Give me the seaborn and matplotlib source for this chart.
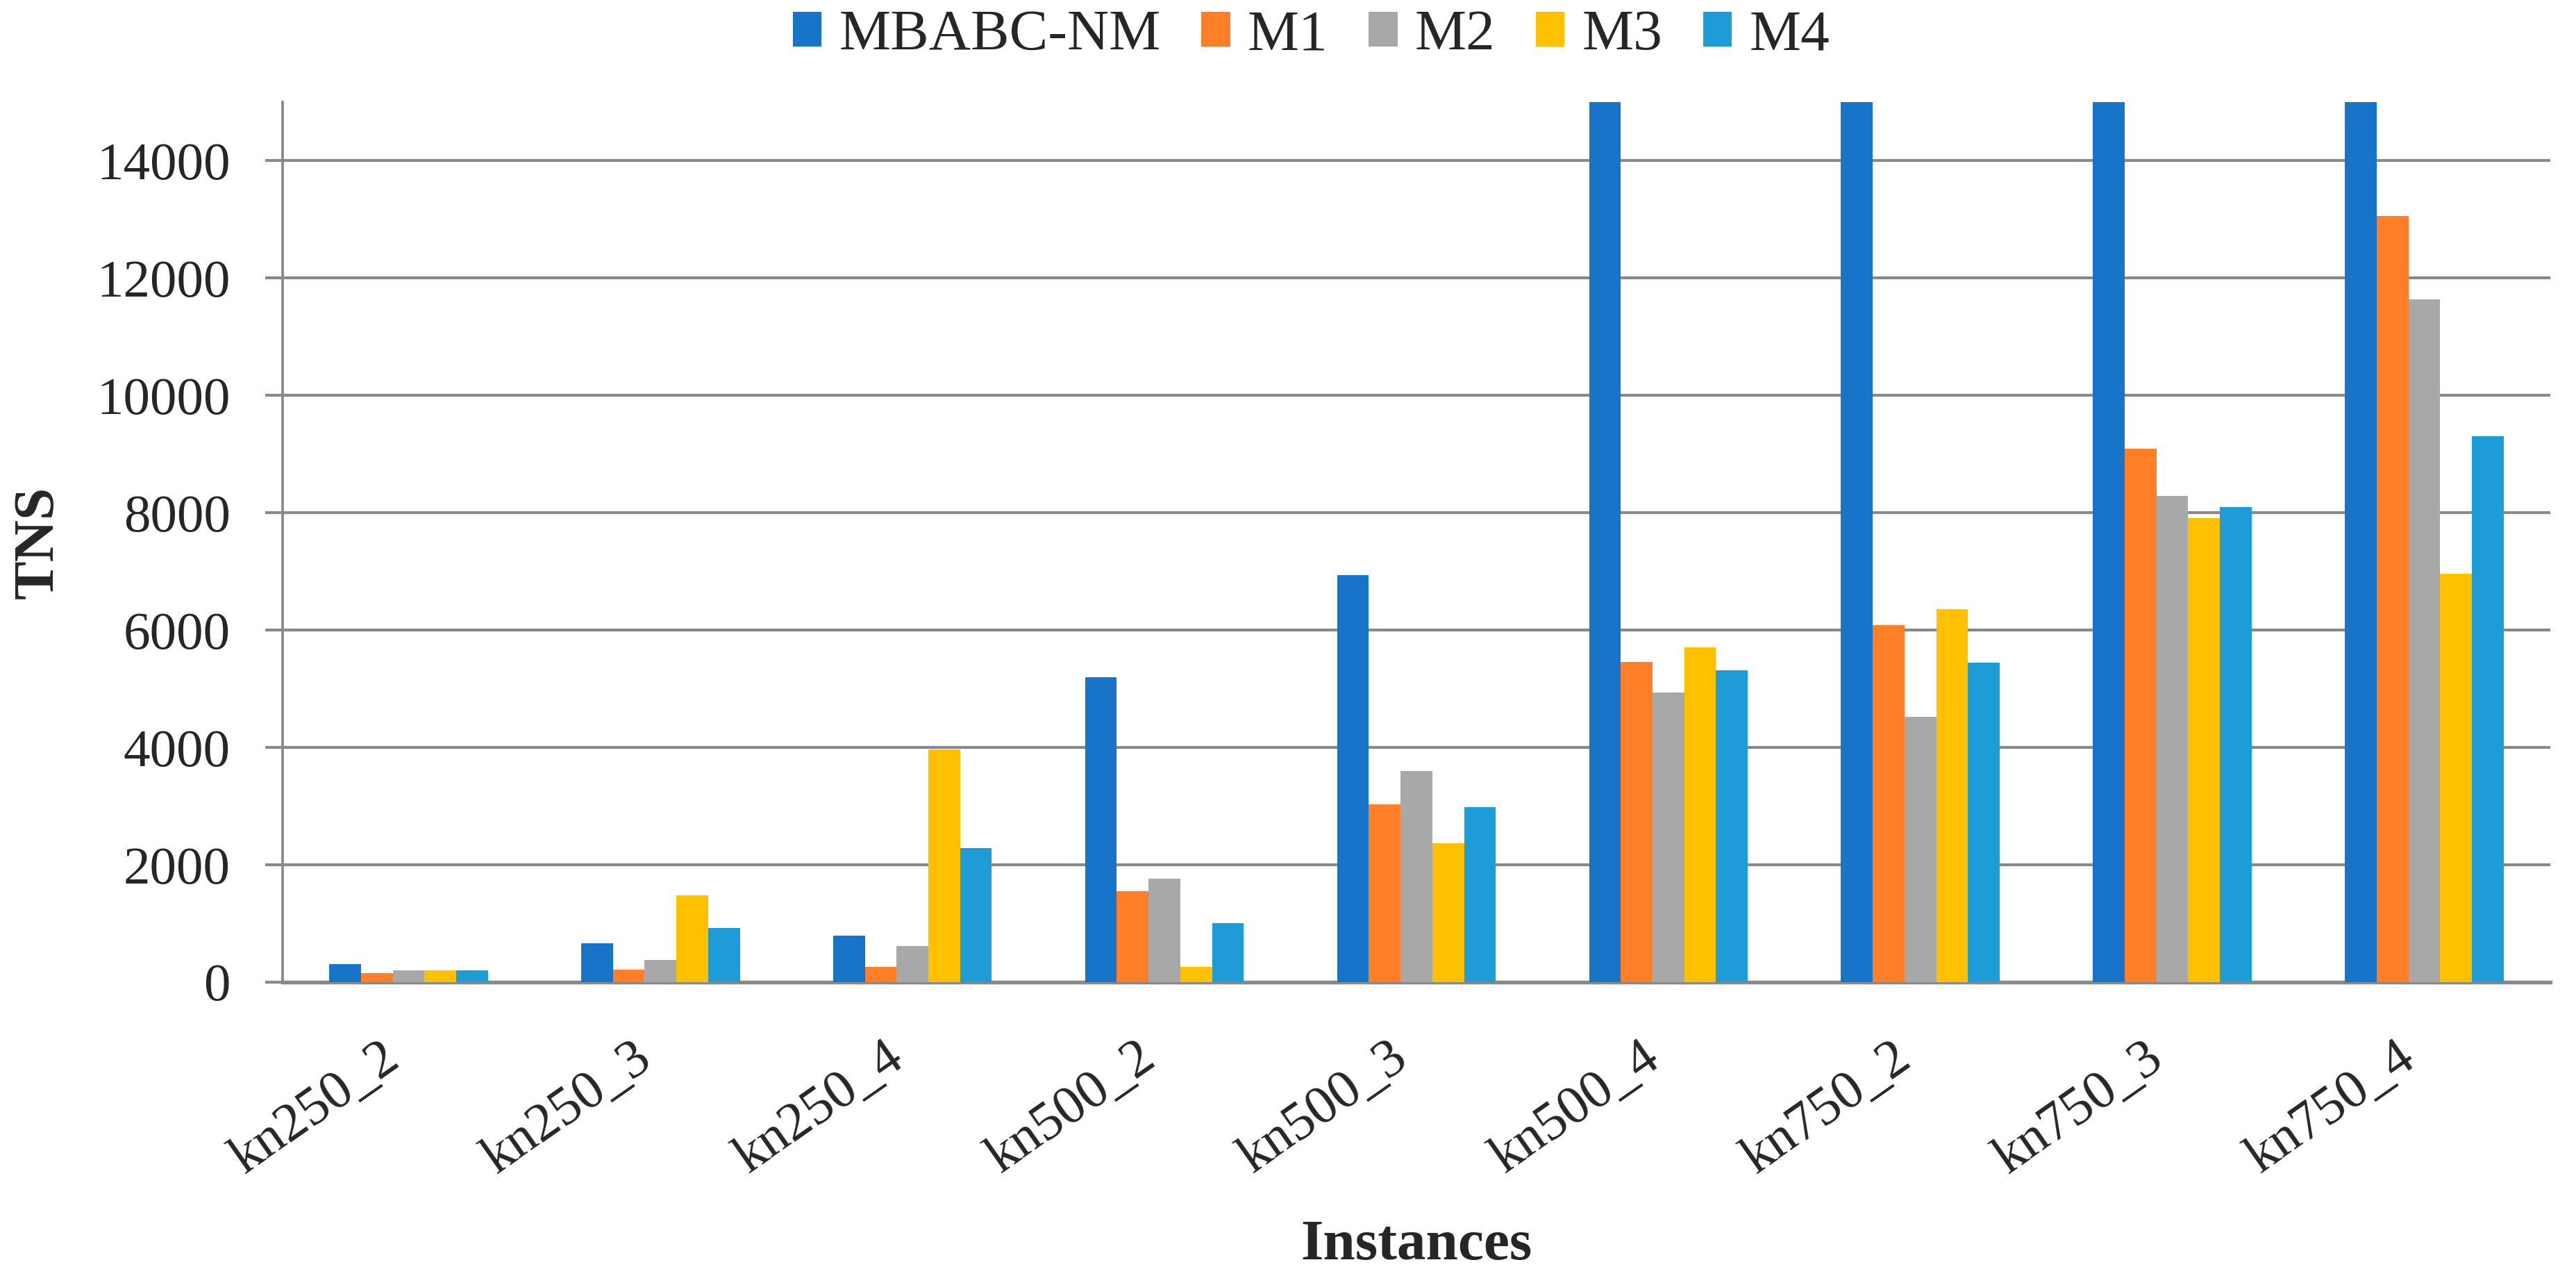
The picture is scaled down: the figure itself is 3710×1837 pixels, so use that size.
import pandas as pd
import matplotlib
matplotlib.use("Agg")
import matplotlib.pyplot as plt
import seaborn as sns

# Datos
instances = ["kn250_2", "kn250_3", "kn250_4", "kn500_2", "kn500_3",
             "kn500_4", "kn750_2", "kn750_3", "kn750_4"]
methods = ["MBABC-NM", "M1", "M2", "M3", "M4"]

# MBABC-NM se sale del eje (tope 15000) en las cuatro últimas instancias
mbabc_nm = [309, 663, 790, 5197, 6935, 17000, 18500, 22000, 26000]
m1 = [157, 211, 260, 1551, 3028, 5458, 6083, 9094, 13055]
m2 = [201, 378, 613, 1762, 3597, 4937, 4516, 8289, 11640]
m3 = [201, 1477, 3971, 260, 2366, 5708, 6355, 7912, 6965]
m4 = [201, 923, 2282, 1006, 2984, 5315, 5443, 8096, 9308]

y_ticks = [0, 2000, 4000, 6000, 8000, 10000, 12000, 14000]
colors = ["#1874C9", "#FE7F27", "#A8A8A8", "#FFC000", "#1E9CD8"]

series = {"MBABC-NM": mbabc_nm, "M1": m1, "M2": m2, "M3": m3, "M4": m4}
df = pd.DataFrame([
    {"instance": inst, "method": m, "TNS": vals[i]}
    for m, vals in series.items()
    for i, inst in enumerate(instances)
])

sns.set_style("white")
plt.rcParams["font.family"] = ["Liberation Serif", "DejaVu Serif"]

fig = plt.figure(figsize=(3710 / 300, 1837 / 300), dpi=300)
ax = fig.add_axes([0.1097, 0.2303, 0.990 - 0.1097, 0.920 - 0.2303])

sns.barplot(data=df, x="instance", y="TNS", hue="method", order=instances,
            hue_order=methods, palette=colors, saturation=1, width=0.63,
            gap=0, linewidth=0, ax=ax, zorder=3)

ax.set_ylim(0, 15000)
ax.set_yticks(y_ticks)
ax.set_xlim(-0.5, len(instances) - 0.5)

# Rejilla y ejes
grid_color = "#898989"
ax.yaxis.grid(True, color=grid_color, linewidth=1.0, zorder=0)
ax.xaxis.grid(False)
ax.set_axisbelow(True)
for side in ["top", "right"]:
    ax.spines[side].set_visible(False)
ax.spines["left"].set_color(grid_color)
ax.spines["left"].set_linewidth(0.9)
ax.spines["bottom"].set_color(grid_color)
ax.spines["bottom"].set_linewidth(1.3)

ax.tick_params(axis="y", length=6, width=1.0, color=grid_color, pad=12,
               labelsize=18.5, left=True, direction="out")
ax.tick_params(axis="x", length=0, pad=17.5, labelsize=19)
plt.setp(ax.get_xticklabels(), rotation=35, ha="right")

ax.set_xlabel("Instances", fontsize=20, fontweight="bold")
ax.xaxis.label.set_va("baseline")
ax.xaxis.set_label_coords(0.5, -0.315)
ax.set_ylabel("TNS", fontsize=20, fontweight="bold")
ax.yaxis.label.set_va("center")
ax.yaxis.set_label_coords(-0.1073, 0.5)

# Leyenda arriba
handles, labels = ax.get_legend_handles_labels()
ax.get_legend().remove()
fig.legend(handles, labels, loc="center", bbox_to_anchor=(0.509, 0.972),
           ncol=5, frameon=False, fontsize=20, handlelength=0.5,
           handleheight=0.55, handletextpad=0.3, columnspacing=0.7)

plt.savefig("out.png", dpi=300)
plt.close()
